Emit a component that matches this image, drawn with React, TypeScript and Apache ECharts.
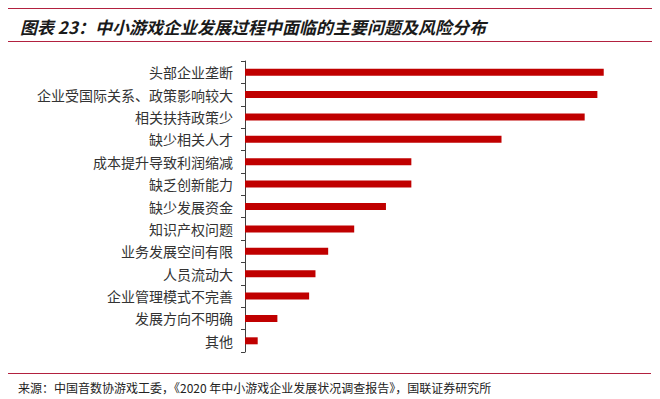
import React, { useEffect, useRef } from "react";
import * as echarts from "echarts";

const categories = [
  "头部企业垄断",
  "企业受国际关系、政策影响较大",
  "相关扶持政策少",
  "缺少相关人才",
  "成本提升导致利润缩减",
  "缺乏创新能力",
  "缺少发展资金",
  "知识产权问题",
  "业务发展空间有限",
  "人员流动大",
  "企业管理模式不完善",
  "发展方向不明确",
  "其他",
];

const values = [56.5, 55.5, 53.5, 40.4, 26.2, 26.2, 22.2, 17.2, 13.1, 11.1, 10.1, 5.1, 2.0];

const titleText = "图表 23：中小游戏企业发展过程中面临的主要问题及风险分布";
const sourceText = "来源：中国音数协游戏工委，《2020 年中小游戏企业发展状况调查报告》，国联证券研究所";

export default function App() {
  const ref = useRef<HTMLDivElement>(null);
  useEffect(() => {
    if (!ref.current) return;
    const chart = echarts.init(ref.current, undefined, { renderer: "svg" });
    const font = '"Noto Sans CJK SC", "Noto Sans", sans-serif';
    const lineColor = "#B2213F";
    chart.setOption({
      animation: false,
      backgroundColor: "#ffffff",
      textStyle: { fontFamily: font },
      grid: { left: 245, top: 61, width: 400, height: 291, containLabel: false },
      xAxis: {
        type: "value",
        min: 0,
        max: 63,
        show: false,
      },
      yAxis: {
        type: "category",
        inverse: true,
        data: categories,
        axisLine: { show: true, lineStyle: { color: "#404040", width: 1 } },
        axisTick: { show: true, length: 4, lineStyle: { color: "#404040" } },
        axisLabel: { color: "#333333", fontSize: 14, margin: 12, fontFamily: font },
      },
      series: [
        {
          type: "bar",
          data: values,
          barWidth: 7,
          itemStyle: { color: "#C00000" },
        },
      ],
      graphic: [
        { type: "line", shape: { x1: 8, y1: 8.5, x2: 652, y2: 8.5 }, style: { stroke: lineColor, lineWidth: 1.2 } },
        { type: "line", shape: { x1: 8, y1: 41.5, x2: 652, y2: 41.5 }, style: { stroke: lineColor, lineWidth: 1.2 } },
        {
          type: "text",
          x: 20,
          y: 26,
          style: {
            text: titleText,
            fontSize: 17,
            fontWeight: "bold",
            fontStyle: "italic",
            fontFamily: font,
            fill: "#1a1a1a",
            verticalAlign: "middle",
          },
        },
        { type: "line", shape: { x1: 8, y1: 373.5, x2: 651, y2: 373.5 }, style: { stroke: lineColor, lineWidth: 1.2 } },
        {
          type: "text",
          x: 18,
          y: 387,
          style: {
            text: sourceText,
            fontSize: 12,
            fontFamily: font,
            fill: "#222222",
            verticalAlign: "middle",
          },
        },
      ],
    });
    return () => chart.dispose();
  }, []);
  return (
    <div
      ref={ref}
      style={{ position: "fixed", left: 0, top: 0, width: 660, height: 399, background: "#fff" }}
    />
  );
}
